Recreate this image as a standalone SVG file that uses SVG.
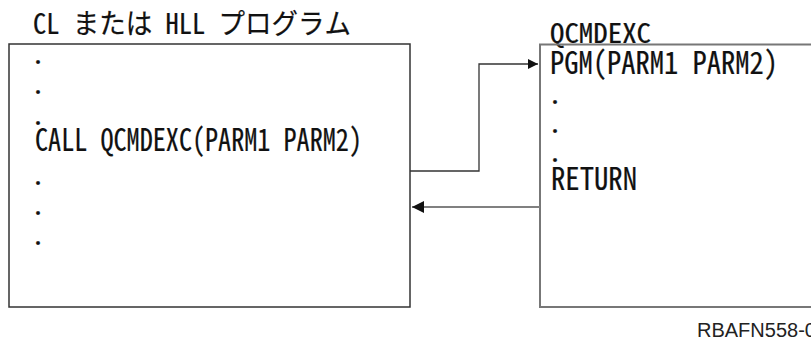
<svg xmlns="http://www.w3.org/2000/svg" width="811" height="341" viewBox="0 0 811 341">
  <defs>
    <style>
      .t { font-family: "Noto Sans Mono CJK JP", "Noto Sans CJK JP", "Liberation Sans", sans-serif; fill: #111; stroke: #111; stroke-width: 0.2; }
      .m { font-size: 31px; }
      .dot { font-size: 20px; font-weight: bold; }
      .box-dark { fill: none; stroke: #333; stroke-width: 1.5; }
      .box-gray { fill: none; stroke: #777; stroke-width: 2; }
      .conn-dark { fill: none; stroke: #333; stroke-width: 1.3; }
      .conn-gray { fill: none; stroke: #808080; stroke-width: 2; }
      .lbl { font-family: "Liberation Sans", Arial, sans-serif; font-size: 20px; fill: #222; }
    </style>
    <marker id="ah" viewBox="0 0 10 10" refX="10" refY="5" markerUnits="userSpaceOnUse" markerWidth="11" markerHeight="10" orient="auto">
      <path d="M0,0 L10,5 L0,10 Z" fill="#111"/>
    </marker>
    <marker id="ah2" viewBox="0 0 10 10" refX="10" refY="5" markerUnits="userSpaceOnUse" markerWidth="12" markerHeight="12" orient="auto">
      <path d="M0,0 L10,5 L0,10 Z" fill="#111"/>
    </marker>
  </defs>

  <g id="caller">
    <text class="t" x="33" y="34" font-size="28" textLength="318" lengthAdjust="spacingAndGlyphs">CL または HLL プログラム</text>
    <rect class="box-dark" x="9" y="44" width="401" height="263"/>
    <text class="t dot" x="33" y="64">.</text>
    <text class="t dot" x="33" y="94">.</text>
    <text class="t dot" x="33" y="125">.</text>
    <text class="t m" x="35" y="151" textLength="327" lengthAdjust="spacingAndGlyphs">CALL QCMDEXC(PARM1 PARM2)</text>
    <text class="t dot" x="33" y="185">.</text>
    <text class="t dot" x="33" y="215">.</text>
    <text class="t dot" x="33" y="245">.</text>
  </g>

  <g id="qcmdexc">
    <text class="t" x="550" y="43" font-size="27" textLength="101" lengthAdjust="spacingAndGlyphs">QCMDEXC</text>
    <path class="box-gray" d="M811,44.5 H540 V307 H811"/>
    <text class="t m" x="550" y="74" textLength="228" lengthAdjust="spacingAndGlyphs">PGM(PARM1 PARM2)</text>
    <text class="t dot" x="550" y="104">.</text>
    <text class="t dot" x="550" y="133">.</text>
    <text class="t dot" x="550" y="162">.</text>
    <text class="t m" x="551" y="190" textLength="86" lengthAdjust="spacingAndGlyphs">RETURN</text>
  </g>

  <g id="connectors">
    <path class="conn-dark" d="M410,171 H479 V64 H538" marker-end="url(#ah)"/>
    <path class="conn-gray" d="M540,207 H412" marker-end="url(#ah2)"/>
  </g>

  <text class="lbl" x="697" y="337">RBAFN558-0</text>
</svg>
